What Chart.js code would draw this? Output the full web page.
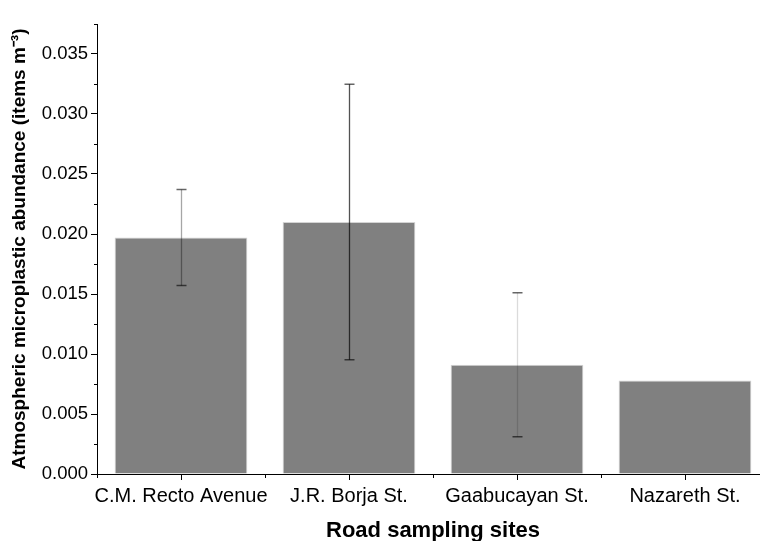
<!DOCTYPE html>
<html>
<head>
<meta charset="utf-8">
<script src="https://cdn.jsdelivr.net/npm/chart.js@4.4.1/dist/chart.umd.min.js"></script>
<style>
  html, body { margin: 0; padding: 0; background: #fff; overflow: hidden; }
  #wrap { width: 760px; height: 541px; overflow: hidden; }
</style>
</head>
<body>
<div id="wrap"><canvas id="chart" width="772" height="544"></canvas></div>
<script>
const sites = ['C.M. Recto Avenue', 'J.R. Borja St.', 'Gaabucayan St.', 'Nazareth St.']
const abundance = [0.0197, 0.0210, 0.0091, 0.0078]
const abundanceErr = [0.0040, 0.01147, 0.0060, 0]
const errAlpha = [0.35, 0.68, 0.14, 0]

const FONT = "'Liberation Sans', Arial, sans-serif"
const STEP = 0.0025

const isMajor = (v) => Math.round(v / STEP) % 2 === 0

const extras = {
  id: 'extras',
  afterDatasetsDraw(chart) {
    const ctx = chart.ctx
    const xs = chart.scales.x
    const ys = chart.scales.y
    const meta = chart.getDatasetMeta(0)
    ctx.save()
    // error bars
    meta.data.forEach((bar, i) => {
      const e = abundanceErr[i]
      if (!e) return
      const x = Math.round(bar.x) + 0.5
      const yT = ys.getPixelForValue(abundance[i] + e)
      const yB = ys.getPixelForValue(abundance[i] - e)
      ctx.strokeStyle = `rgba(0,0,0,${errAlpha[i]})`
      ctx.lineWidth = 1.3
      ctx.beginPath()
      ctx.moveTo(x, yT)
      ctx.lineTo(x, yB)
      ctx.stroke()
      ctx.strokeStyle = 'rgba(0,0,0,0.6)'
      ctx.lineWidth = 1.5
      ctx.beginPath()
      ctx.moveTo(x - 5, yT); ctx.lineTo(x + 5, yT)
      ctx.moveTo(x - 5, yB); ctx.lineTo(x + 5, yB)
      ctx.stroke()
    })
    // minor ticks
    ctx.strokeStyle = '#000'
    ctx.lineWidth = 1
    ctx.beginPath()
    ys.ticks.forEach((t) => {
      if (isMajor(t.value)) return
      const y = Math.round(ys.getPixelForValue(t.value)) + 0.5
      ctx.moveTo(ys.right - 3, y)
      ctx.lineTo(ys.right, y)
    })
    for (let i = 0; i <= sites.length; i++) {
      const x = Math.round(xs.getPixelForValue(i - 0.5)) + 0.5
      ctx.moveTo(x, xs.top)
      ctx.lineTo(x, xs.top + 4)
    }
    ctx.stroke()
    ctx.restore()
  }
}

new Chart(document.getElementById('chart'), {
  type: 'bar',
  data: {
    labels: sites,
    datasets: [{
      data: abundance,
      backgroundColor: '#808080',
      borderColor: '#d4d4d4',
      borderWidth: 1,
      barPercentage: 0.79,
      categoryPercentage: 1
    }]
  },
  options: {
    responsive: false,
    animation: false,
    layout: { padding: { top: 24, right: 3, left: 0, bottom: 0 } },
    plugins: { legend: { display: false }, tooltip: { enabled: false } },
    scales: {
      x: {
        offset: true,
        border: { color: '#000', width: 1 },
        grid: { display: true, drawOnChartArea: false, offset: false, tickLength: 6, tickColor: '#000' },
        ticks: { color: '#000', font: { family: FONT, size: 20 }, padding: 4, maxRotation: 0, autoSkip: false },
        title: { display: true, text: 'Road sampling sites', color: '#000', font: { family: FONT, size: 22, weight: 'bold' }, padding: { top: 0, bottom: 0 } },
        afterFit: (s) => { s.height = 70 }
      },
      y: {
        min: 0,
        max: 0.0375,
        border: { color: '#000', width: 1 },
        grid: {
          display: true, drawOnChartArea: false, tickLength: 6,
          tickColor: (c) => (c.tick && isMajor(c.tick.value) ? '#000' : 'rgba(0,0,0,0)')
        },
        ticks: {
          stepSize: STEP,
          includeBounds: false,
          autoSkip: false,
          color: '#000',
          padding: 3,
          font: { family: FONT, size: 18.5 },
          callback: (v) => (isMajor(v) ? Number(v).toFixed(3) : '')
        },
        title: { display: true, text: 'Atmospheric microplastic abundance (items m⁻³)', color: '#000', font: { family: FONT, size: 19, weight: 'bold' }, padding: { top: 8, bottom: 0 } },
        afterFit: (s) => { s.width = 97 }
      }
    }
  },
  plugins: [extras]
})
</script>
</body>
</html>
